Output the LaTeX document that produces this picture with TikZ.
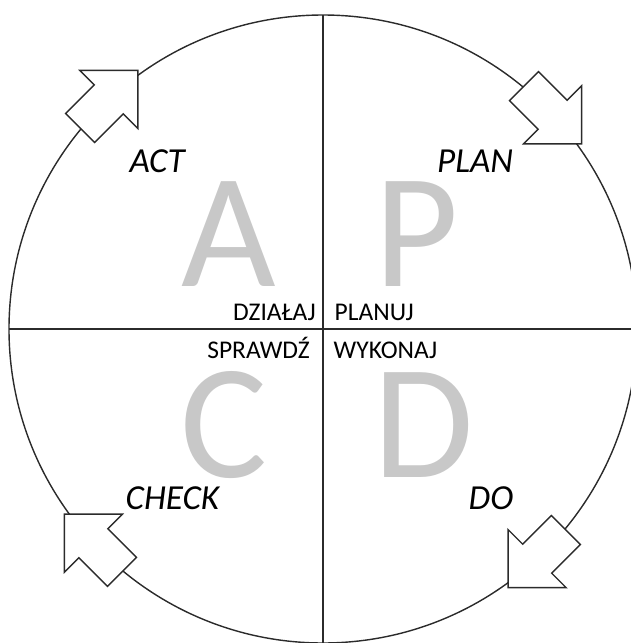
\documentclass[tikz,border=0pt]{standalone}
\usepackage{fontspec}
\setmainfont{Carlito}
\usetikzlibrary{positioning}
\definecolor{Ink}{HTML}{2B2B2B}
\definecolor{Faded}{HTML}{C8C8C8}

\tikzset{
  bigletter/.style={inner sep=0pt,anchor=base,text=Faded,text depth=0pt,font=\fontsize{93}{93}\selectfont},
  phase/.style={inner sep=0pt,anchor=base west,font=\fontsize{20}{20}\selectfont\itshape},
  verb/.style={inner sep=0pt,text depth=0pt,font=\fontsize{14.5}{14.5}\selectfont},
  cyclearrow/.pic={\draw[Ink,line width=.8pt,fill=white,line join=miter]
    (-0.81,-0.41) -- (0,-0.41) -- (0,-0.82) -- (0.82,0) -- (0,0.82) -- (0,0.41) -- (-0.81,0.41) -- cycle;}
}

\begin{document}
\begin{tikzpicture}[line width=.8pt]
  \useasboundingbox (-6.46,-6.28) rectangle (6.14,6.58);
  % wheel and quadrants
  \node[circle,draw=Ink,inner sep=0pt,outer sep=0pt,minimum size=12.56cm] (ring) at (0,0) {};
  \draw[Ink] (ring.north) -- (ring.south);
  \draw[Ink] (ring.west) -- (ring.east);
  % big letters
  \node[bigletter] (A) at (-1.89,0.86) {A};
  \node[bigletter] (P) at (1.88,0.86) {P};
  \node[bigletter] (C) at (-1.98,-2.96) {C};
  \node[bigletter] (D) at (2.02,-2.96) {D};
  % phase names
  \node[phase] (act) at (-3.88,3.13) {ACT};
  \node[phase] (plan) at (2.27,3.13) {PLAN};
  \node[phase] (check) at (-3.96,-3.60) {CHECK};
  \node[phase] (do) at (2.90,-3.60) {DO};
  % polish verbs
  \node[verb,anchor=base east] (dzialaj) at (-0.13,0.18) {DZIAŁAJ};
  \node[verb,anchor=base west] (planuj) at (0.22,0.18) {PLANUJ};
  \node[verb,anchor=base east] (sprawdz) at (-0.25,-0.58) {SPRAWDŹ};
  \node[verb,anchor=base west] (wykonaj) at (0.20,-0.58) {WYKONAJ};
  % clockwise arrows on the rim
  \foreach \a in {45,135,225,315}
    \pic[rotate=\a-90] at (ring.\a-2) {cyclearrow};
\end{tikzpicture}
\end{document}
